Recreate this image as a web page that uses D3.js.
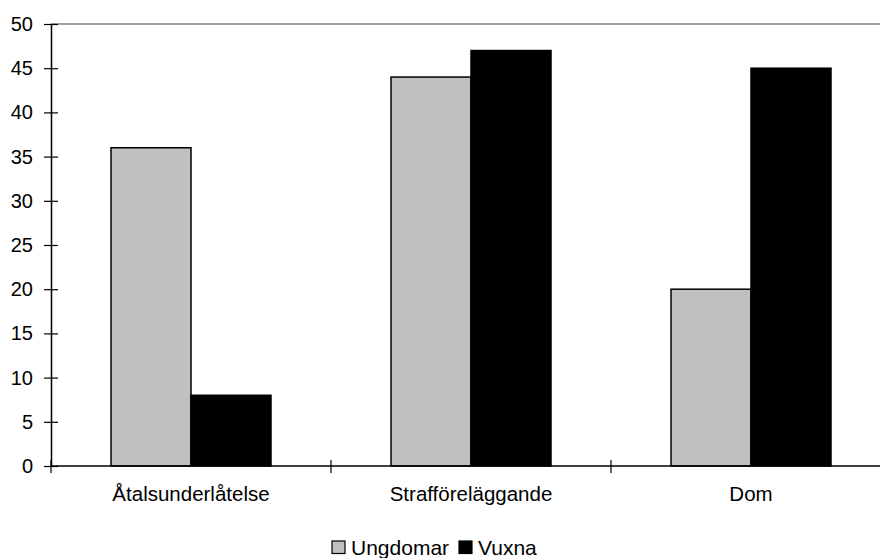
<!DOCTYPE html>
<html>
<head>
<meta charset="utf-8">
<script src="https://cdn.jsdelivr.net/npm/d3@7"></script>
<style>
  html, body { margin: 0; padding: 0; background: #fff; }
  svg { display: block; font-family: "Liberation Sans", Arial, sans-serif; }
</style>
</head>
<body>
<svg id="chart" width="880" height="558"></svg>
<script>
const categories = ["Åtalsunderlåtelse", "Strafföreläggande", "Dom"];
const seriesNames = ["Ungdomar", "Vuxna"];
const ungdomar = [36, 44, 20];
const vuxna = [8, 47, 45];
const yTicks = [0, 5, 10, 15, 20, 25, 30, 35, 40, 45, 50];
const colors = ["#c0c0c0", "#000000"];

const seriesValues = [ungdomar, vuxna];
const svg = d3.select("#chart");

const x0 = d3.scaleBand().domain(categories).range([51, 891]).padding(0);
const bw = x0.bandwidth();
const x1 = d3.scaleBand().domain(seriesNames).range([bw * 3 / 14, bw * 11 / 14]).padding(0);
const y = d3.scaleLinear().domain([0, 50]).range([466, 24]);

// top border line
svg.append("line")
  .attr("x1", 51).attr("x2", 880)
  .attr("y1", y(50)).attr("y2", y(50))
  .attr("stroke", "#808080").attr("stroke-width", 1.5);

// bars
const groups = svg.append("g").selectAll("g")
  .data(categories)
  .join("g")
  .attr("transform", d => `translate(${x0(d)},0)`);

groups.selectAll("rect")
  .data((c, ci) => seriesNames.map((s, si) => ({ s, si, v: seriesValues[si][ci] })))
  .join("rect")
  .attr("x", d => x1(d.s))
  .attr("width", x1.bandwidth())
  .attr("y", d => y(d.v))
  .attr("height", d => y(0) - y(d.v))
  .attr("fill", d => colors[d.si])
  .attr("stroke", "#000")
  .attr("stroke-width", 1.5);

// y axis
const yAxis = d3.axisLeft(y).tickValues(yTicks).tickSize(0).tickPadding(0);
const yg = svg.append("g").attr("transform", "translate(51,0)").call(yAxis);
yg.select(".domain").attr("stroke", "#000").attr("stroke-width", 1.5);
yg.selectAll(".tick line").remove();
yg.selectAll(".tick").append("line")
  .attr("x1", -7).attr("x2", 7)
  .attr("stroke", "#000").attr("stroke-width", 1.2);
yg.selectAll(".tick text")
  .attr("x", -18)
  .attr("font-size", 20)
  .attr("font-family", "Liberation Sans, Arial, sans-serif")
  .attr("fill", "#000");

// x axis
const xg = svg.append("g").attr("transform", `translate(0,${y(0)})`);
xg.append("line")
  .attr("x1", 51).attr("x2", 880)
  .attr("stroke", "#000").attr("stroke-width", 1.5);
const boundaries = categories.map(c => x0(c)).concat([x0(categories[categories.length - 1]) + bw]);
xg.selectAll(".xtick").data(boundaries).join("line")
  .attr("class", "xtick")
  .attr("x1", d => d).attr("x2", d => d)
  .attr("y1", -6).attr("y2", 7)
  .attr("stroke", "#000").attr("stroke-width", 1.2);
xg.selectAll(".xlabel").data(categories).join("text")
  .attr("class", "xlabel")
  .attr("x", d => x0(d) + bw / 2)
  .attr("y", 35)
  .attr("text-anchor", "middle")
  .attr("font-size", 20.5)
  .attr("fill", "#000")
  .text(d => d);

// legend
const legendItems = [
  { name: seriesNames[0], color: colors[0], x: 332 },
  { name: seriesNames[1], color: colors[1], x: 459 }
];
const lg = svg.append("g");
legendItems.forEach(it => {
  lg.append("rect")
    .attr("x", it.x).attr("y", 541)
    .attr("width", 13).attr("height", 12.5)
    .attr("fill", it.color)
    .attr("stroke", "#000").attr("stroke-width", 1.2);
  lg.append("text")
    .attr("x", it.x + 19).attr("y", 555)
    .attr("font-size", 21)
    .attr("fill", "#000")
    .text(it.name);
});
</script>
</body>
</html>
